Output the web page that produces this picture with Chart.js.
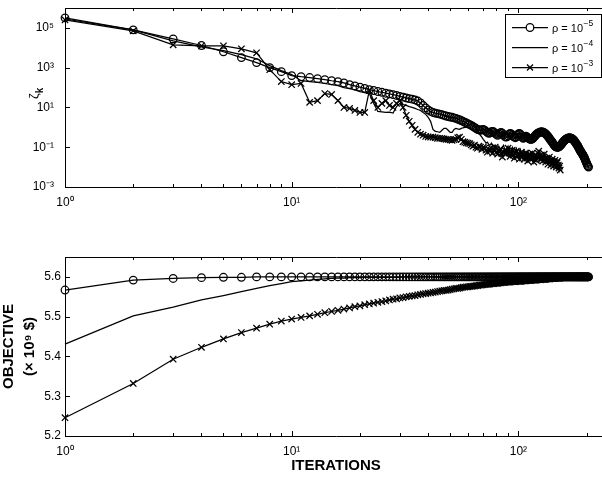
<!DOCTYPE html>
<html><head><meta charset="utf-8">
<script src="https://cdn.jsdelivr.net/npm/chart.js@4.4.1/dist/chart.umd.min.js"></script>
<style>
html,body{margin:0;padding:0;background:#fff;}
#wrap{position:relative;width:602px;height:479px;overflow:hidden;background:#fff;}
#c1{position:absolute;left:0;top:0;}
#c2{position:absolute;left:0;top:230px;}
</style></head><body>
<div id="wrap">
<canvas id="c1" width="607" height="230"></canvas>
<canvas id="c2" width="607" height="249"></canvas>
</div>
<script>
// ---------------- data (iteration k = index + 1) ----------------
const seriesNames = ['\u03c1 = 10', '\u03c1 = 10', '\u03c1 = 10'];
const seriesExponents = ['\u22125', '\u22124', '\u22123'];

const xMajorTicks = [1, 10, 100];
const xMinorTicks = [2,3,4,5,6,7,8,9,20,30,40,50,60,70,80,90,200];
const xTickLabels = ['10\u2070', '10\u00b9', '10\u00b2'];

const zetaTicks = [1e-3, 1e-1, 1e1, 1e3, 1e5];
const zetaTickLabels = ['10\u207b\u00b3', '10\u207b\u00b9', '10\u00b9', '10\u00b3', '10\u2075'];

const objTicks = [5.2, 5.3, 5.4, 5.5, 5.6];
const objTickLabels = ['5.2', '5.3', '5.4', '5.5', '5.6'];

// zeta_k, rho = 1e-5 (circles)
const zetaRho5 = [
 3.2e5,7.9e4,2.8e4,1.3e4,6.3e3,3.2e3,1.8e3,1.0e3,630,400,
 350,320,280,250,220,200,170,140,120,105,
 91,79,71,63,58,52,48,44,40,36,
 33,30,28,26,24,21,17,12.6,9.5,7.6,
 6.3,5.6,5.2,4.9,4.6,4.3,4.0,3.7,3.5,3.3,
 3.2,3.0,2.8,2.6,2.4,2.2,2.0,1.8,1.66,1.5,
 1.38,1.26,1.12,1.0,0.89,0.79,0.74,0.71,0.76,0.79,
 0.72,0.63,0.56,0.5,0.52,0.6,0.63,0.58,0.5,0.44,
 0.4,0.45,0.52,0.56,0.5,0.42,0.35,0.32,0.33,0.38,
 0.45,0.5,0.47,0.4,0.35,0.32,0.3,0.33,0.4,0.47,
 0.5,0.45,0.38,0.32,0.28,0.3,0.34,0.36,0.33,0.3,
 0.28,0.26,0.25,0.25,0.26,0.28,0.32,0.35,0.4,0.44,
 0.48,0.51,0.54,0.56,0.58,0.59,0.59,0.58,0.56,0.54,
 0.5,0.47,0.43,0.39,0.35,0.32,0.28,0.25,0.22,0.2,
 0.18,0.16,0.14,0.126,0.115,0.107,0.102,0.1,0.1,0.1,
 0.105,0.112,0.12,0.132,0.145,0.158,0.174,0.19,0.21,0.224,
 0.24,0.25,0.26,0.275,0.28,0.29,0.295,0.295,0.295,0.29,
 0.28,0.275,0.26,0.25,0.234,0.22,0.2,0.18,0.166,0.15,
 0.138,0.126,0.112,0.1,0.089,0.079,0.071,0.063,0.058,0.052,
 0.048,0.044,0.04,0.035,0.032,0.028,0.024,0.021,0.018,0.016,
 0.014,0.012,0.011,0.01
];

// zeta_k, rho = 1e-4 (plain line)
const zetaRho4 = [
 2.8e5,7.9e4,2.2e4,1.1e4,7.1e3,4.5e3,2.8e3,1.26e3,710,450,
 220,200,180,160,140,126,100,89,76,63,
 56,50,16,6.3,6.0,5.6,5.8,5.2,11,16,
 14,12.6,11,10,8.9,7.9,7.1,5.6,4.5,3.2,
 2.0,0.79,0.63,0.6,0.56,0.71,0.89,0.89,0.71,0.56,
 0.56,0.79,0.89,0.83,0.79,0.89,0.95,1.0,1.0,1.26,
 1.4,1.58,1.58,1.26,0.89,0.63,0.5,0.4,0.32,0.25,
 0.2,0.16,0.18,0.14,0.126,0.16,0.112,0.1,0.126,0.089,
 0.079,0.112,0.089,0.071,0.1,0.126,0.079,0.063,0.089,0.112,
 0.071,0.056,0.079,0.1,0.063,0.05,0.071,0.089,0.056,0.045,
 0.063,0.079,0.05,0.04,0.063,0.071,0.045,0.035,0.05,0.063,
 0.04,0.032,0.05,0.056,0.035,0.028,0.045,0.05,0.032,0.025,
 0.035,0.04,0.028,0.022,0.032
];

// zeta_k, rho = 1e-3 (crosses)
const zetaRho3 = [
 2.5e5,7.1e4,1.4e4,1.26e4,1.26e4,8.9e3,5.6e3,790,200,140,
 160,18,22,50,45,22,10,8.9,7.1,5.6,
 5.6,71,22,10,16,22,12.6,10,16,22,
 10,4.0,2.0,1.26,0.79,0.56,0.45,0.4,0.35,0.33,
 0.32,0.32,0.3,0.28,0.28,0.275,0.26,0.25,0.25,0.234,
 0.224,0.24,0.25,0.3,0.32,0.25,0.19,0.18,0.166,0.16,
 0.15,0.132,0.112,0.126,0.1,0.089,0.112,0.1,0.079,0.1,
 0.089,0.071,0.056,0.079,0.063,0.089,0.05,0.071,0.1,0.056,
 0.045,0.063,0.079,0.05,0.032,0.056,0.071,0.045,0.063,0.089,
 0.05,0.035,0.05,0.071,0.04,0.028,0.05,0.063,0.035,0.045,
 0.025,0.04,0.056,0.032,0.045,0.025,0.035,0.05,0.028,0.02,
 0.035,0.045,0.025,0.032,0.05,0.028,0.018,0.032,0.04,0.022,
 0.032,0.05,0.063,0.035,0.025,0.04,0.028,0.02,0.032,0.045,
 0.025,0.018,0.028,0.022,0.014,0.025,0.032,0.02,0.0126,0.02,
 0.025,0.016,0.0112,0.018,0.022,0.014,0.01,0.016,0.02,0.0126,
 0.0089,0.0112,0.0071
];

// objective (x 1e9 $), rho = 1e-5
const objRho5 = [
 5.567,5.592,5.596,5.598,5.599,5.599,5.6,5.6,5.6,5.6,
 5.6,5.6,5.6,5.6,5.6,5.6,5.6,5.6,5.6,5.6,
 5.6,5.6,5.6,5.6,5.6,5.6,5.6,5.6,5.6,5.6,
 5.6,5.6,5.6,5.6,5.6,5.6,5.6,5.6,5.6,5.6,
 5.6,5.6,5.6,5.6,5.6,5.6,5.6,5.6,5.6,5.6,
 5.6,5.6,5.6,5.6,5.6,5.6,5.6,5.6,5.6,5.6,
 5.6,5.6,5.6,5.6,5.6,5.6,5.6,5.6,5.6,5.6,
 5.6,5.6,5.6,5.6,5.6,5.6,5.6,5.6,5.6,5.6,
 5.6,5.6,5.6,5.6,5.6,5.6,5.6,5.6,5.6,5.6,
 5.6,5.6,5.6,5.6,5.6,5.6,5.6,5.6,5.6,5.6,
 5.6,5.6,5.6,5.6,5.6,5.6,5.6,5.6,5.6,5.6,
 5.6,5.6,5.6,5.6,5.6,5.6,5.6,5.6,5.6,5.6,
 5.6,5.6,5.6,5.6,5.6,5.6,5.6,5.6,5.6,5.6,
 5.6,5.6,5.6,5.6,5.6,5.6,5.6,5.6,5.6,5.6,
 5.6,5.6,5.6,5.6,5.6,5.6,5.6,5.6,5.6,5.6,
 5.6,5.6,5.6,5.6,5.6,5.6,5.6,5.6,5.6,5.6,
 5.6,5.6,5.6,5.6,5.6,5.6,5.6,5.6,5.6,5.6,
 5.6,5.6,5.6,5.6,5.6,5.6,5.6,5.6,5.6,5.6,
 5.6,5.6,5.6,5.6,5.6,5.6,5.6,5.6,5.6,5.6,
 5.6,5.6,5.6,5.6,5.6,5.6,5.6,5.6,5.6,5.6,
 5.6,5.6,5.6,5.6
];

// objective, rho = 1e-4
const objRho4 = [
 5.431,5.502,5.524,5.542,5.553,5.563,5.571,5.578,5.583,5.588,
 5.590,5.592,5.594,5.595,5.596,5.597,5.597,5.598,5.598,5.598,
 5.599,5.599,5.599,5.599,5.599,5.599,5.599,5.599,5.599,5.599,
 5.6,5.6,5.6,5.6,5.6,5.6,5.6,5.6,5.6,5.6,
 5.6,5.6,5.6,5.6,5.6,5.6,5.6,5.6,5.6,5.6,
 5.6,5.6,5.6,5.6,5.6,5.6,5.6,5.6,5.6,5.6,
 5.6,5.6,5.6,5.6,5.6,5.6,5.6,5.6,5.6,5.6,
 5.6,5.6,5.6,5.6,5.6,5.6,5.6,5.6,5.6,5.6,
 5.6,5.6,5.6,5.6,5.6,5.6,5.6,5.6,5.6,5.6,
 5.6,5.6,5.6,5.6,5.6,5.6,5.6,5.6,5.6,5.6,
 5.6,5.6,5.6,5.6,5.6,5.6,5.6,5.6,5.6,5.6,
 5.6,5.6,5.6,5.6,5.6,5.6,5.6,5.6,5.6,5.6,
 5.6,5.6,5.6,5.6,5.6
];

// objective, rho = 1e-3
const objRho3 = [
 5.246,5.332,5.393,5.423,5.444,5.460,5.471,5.481,5.489,5.494,
 5.498,5.502,5.506,5.510,5.513,5.516,5.519,5.522,5.525,5.527,
 5.530,5.532,5.534,5.536,5.538,5.540,5.542,5.544,5.545,5.547,
 5.548,5.550,5.551,5.552,5.553,5.555,5.556,5.557,5.558,5.559,
 5.560,5.561,5.562,5.563,5.564,5.565,5.566,5.566,5.567,5.568,
 5.569,5.570,5.571,5.571,5.572,5.573,5.574,5.574,5.575,5.575,
 5.576,5.576,5.577,5.577,5.578,5.578,5.579,5.579,5.580,5.580,
 5.581,5.581,5.581,5.582,5.582,5.583,5.583,5.583,5.584,5.584,
 5.584,5.585,5.585,5.585,5.586,5.586,5.586,5.587,5.587,5.587,
 5.587,5.587,5.588,5.588,5.588,5.588,5.588,5.589,5.589,5.589,
 5.589,5.589,5.589,5.590,5.590,5.590,5.590,5.590,5.591,5.591,
 5.591,5.591,5.591,5.591,5.592,5.592,5.592,5.592,5.592,5.592,
 5.593,5.593,5.593,5.593,5.593,5.593,5.594,5.594,5.594,5.594,
 5.594,5.594,5.595,5.595,5.595,5.595,5.595,5.595,5.596,5.596,
 5.596,5.596,5.596,5.596,5.596,5.596,5.597,5.597,5.597,5.597,
 5.597,5.597,5.597
];

// ---------------- rendering ----------------
const FONT = "'Liberation Sans', Arial, Helvetica, sans-serif";
Chart.defaults.font.family = FONT;
Chart.defaults.color = '#000';
const XMIN = 1, XMAX = 246;
const LW = 1.25;

const toXY = arr => arr.map((v, i) => ({x: i + 1, y: v}));

function makeDatasets(a5, a4, a3) {
  return [
    {data: toXY(a5), borderColor:'#000', borderWidth:LW, tension:0, fill:false, clip:false,
     pointStyle:'circle', pointRadius:3.8, pointBorderWidth:LW, pointBorderColor:'#000', pointBackgroundColor:'rgba(0,0,0,0)'},
    {data: toXY(a4), borderColor:'#000', borderWidth:LW, tension:0, fill:false, clip:false, pointRadius:0},
    {data: toXY(a3), borderColor:'#000', borderWidth:LW, tension:0, fill:false, clip:false,
     pointStyle:'crossRot', pointRadius:4.5, pointBorderWidth:LW, pointBorderColor:'#000', pointBackgroundColor:'#000'}
  ];
}

function zeroPad(s) { s.paddingTop = 0; s.paddingBottom = 0; s.paddingLeft = 0; s.paddingRight = 0; }

const ticksPlugin = {
  id: 'matlabTicks',
  afterDraw(chart, args, opts) {
    const ctx = chart.ctx, a = chart.chartArea;
    const xs = chart.scales.x, ys = chart.scales.y;
    ctx.save();
    ctx.strokeStyle = '#000'; ctx.lineWidth = 1;
    ctx.beginPath();
    const vx = (v, len) => {
      const p = Math.round(xs.getPixelForValue(v)) + 0.5;
      ctx.moveTo(p, a.bottom); ctx.lineTo(p, a.bottom - len);
      ctx.moveTo(p, a.top); ctx.lineTo(p, a.top + len);
    };
    xMajorTicks.forEach(v => vx(v, 5));
    xMinorTicks.forEach(v => vx(v, 3));
    opts.yTicks.forEach(v => {
      const p = Math.round(ys.getPixelForValue(v)) + 0.5;
      ctx.moveTo(a.left, p); ctx.lineTo(a.left + 5, p);
    });
    ctx.stroke();
    ctx.restore();
  }
};

const legendPlugin = {
  id: 'mLegend',
  afterDraw(chart) {
    const ctx = chart.ctx;
    const L = 505.5, T = 14.5, R = 601.5, B = 77.5;
    ctx.save();
    ctx.fillStyle = '#fff'; ctx.fillRect(L, T, R - L, B - T);
    ctx.strokeStyle = '#000'; ctx.lineWidth = 1; ctx.strokeRect(L, T, R - L, B - T);
    const rows = [27.5, 47.5, 67.5];
    rows.forEach((y, i) => {
      ctx.lineWidth = LW;
      ctx.beginPath(); ctx.moveTo(512, y); ctx.lineTo(548, y); ctx.stroke();
      if (i === 0) { ctx.beginPath(); ctx.arc(530, y, 3.8, 0, Math.PI * 2); ctx.fillStyle = '#fff'; ctx.fill(); ctx.stroke(); }
      if (i === 2) { ctx.beginPath(); ctx.moveTo(527, y - 3); ctx.lineTo(533, y + 3); ctx.moveTo(527, y + 3); ctx.lineTo(533, y - 3); ctx.stroke(); }
      ctx.fillStyle = '#000';
      ctx.textBaseline = 'alphabetic'; ctx.textAlign = 'left';
      ctx.font = '11px ' + FONT;
      ctx.fillText(seriesNames[i], 552, y + 4);
      const w = ctx.measureText(seriesNames[i]).width;
      ctx.font = '8.5px ' + FONT;
      ctx.fillText(seriesExponents[i], 552 + w + 0.5, y - 2);
    });
    // y-axis label zeta_k
    ctx.translate(33, 93); ctx.rotate(-Math.PI / 2);
    ctx.font = '13px ' + FONT;
    ctx.fillText('\u03b6', -6, 5);
    const wz = ctx.measureText('\u03b6').width;
    ctx.font = 'bold 10px ' + FONT;
    ctx.fillText('k', -6 + wz, 10);
    ctx.restore();
  }
};

const setX = s => { s.min = XMIN; s.max = XMAX; };

const xScale = (h) => ({
  type:'logarithmic', position:'bottom', min:XMIN, max:XMAX, bounds:'data',
  afterBuildTicks: s => { s.ticks = xMajorTicks.map(v => ({value:v})); setX(s); },
  ticks:{autoSkip:false, maxRotation:0, padding:8, font:{size:12},
         callback: v => xTickLabels[xMajorTicks.indexOf(v)]},
  grid:{display:false, drawTicks:false},
  border:{display:true, color:'#000', width:1},
  afterFit: s => { s.height = h; zeroPad(s); }
});
const xTopScale = (h) => ({
  type:'logarithmic', position:'top', min:XMIN, max:XMAX, bounds:'data',
  afterBuildTicks: s => { s.ticks = xMajorTicks.map(v => ({value:v})); setX(s); },
  ticks:{display:false}, grid:{display:false, drawTicks:false},
  border:{display:true, color:'#000', width:1},
  afterFit: s => { s.height = h; zeroPad(s); }
});

new Chart(document.getElementById('c1'), {
  type:'line',
  data:{datasets: makeDatasets(zetaRho5, zetaRho4, zetaRho3)},
  options:{
    responsive:false, animation:false, devicePixelRatio:1,
    layout:{padding:0, autoPadding:false},
    plugins:{legend:{display:false}, tooltip:{enabled:false}, matlabTicks:{yTicks: zetaTicks}},
    scales:{
      x: xScale(43),
      xTop: xTopScale(8),
      y:{type:'logarithmic', min:1e-3, max:1e6, bounds:'data',
         afterBuildTicks: s => { s.ticks = zetaTicks.map(v => ({value:v})); s.min = 1e-3; s.max = 1e6; },
         ticks:{padding:11, font:{size:12}, callback: v => zetaTickLabels[zetaTicks.findIndex(t => Math.abs(Math.log10(t) - Math.log10(v)) < 1e-6)]},
         grid:{display:false, drawTicks:false},
         border:{display:true, color:'#000', width:1},
         afterFit: s => { s.width = 65; zeroPad(s); }}
    }
  },
  plugins:[ticksPlugin, legendPlugin]
});

const xb = xScale(43);
xb.title = {display:true, text:'ITERATIONS', font:{size:15, weight:'bold'}, padding:{top:0, bottom:4}};
new Chart(document.getElementById('c2'), {
  type:'line',
  data:{datasets: makeDatasets(objRho5, objRho4, objRho3)},
  options:{
    responsive:false, animation:false, devicePixelRatio:1,
    layout:{padding:0, autoPadding:false},
    plugins:{legend:{display:false}, tooltip:{enabled:false}, matlabTicks:{yTicks: objTicks}},
    scales:{
      x: xb,
      xTop: xTopScale(27),
      y:{type:'linear', min:5.2, max:5.65, bounds:'data',
         afterBuildTicks: s => { s.ticks = objTicks.map(v => ({value:v})); s.min = 5.2; s.max = 5.65; },
         ticks:{padding:4, font:{size:12}, callback: v => objTickLabels[objTicks.findIndex(t => Math.abs(t - v) < 1e-6)]},
         grid:{display:false, drawTicks:false},
         border:{display:true, color:'#000', width:1},
         title:{display:true, text:['OBJECTIVE', '(\u00d7 10\u2079 $)'], font:{size:15, weight:'bold', lineHeight:1.4}, padding:{top:-1.5, bottom:0}},
         afterFit: s => { s.width = 65; zeroPad(s); }}
    }
  },
  plugins:[ticksPlugin]
});
</script>
</body></html>
